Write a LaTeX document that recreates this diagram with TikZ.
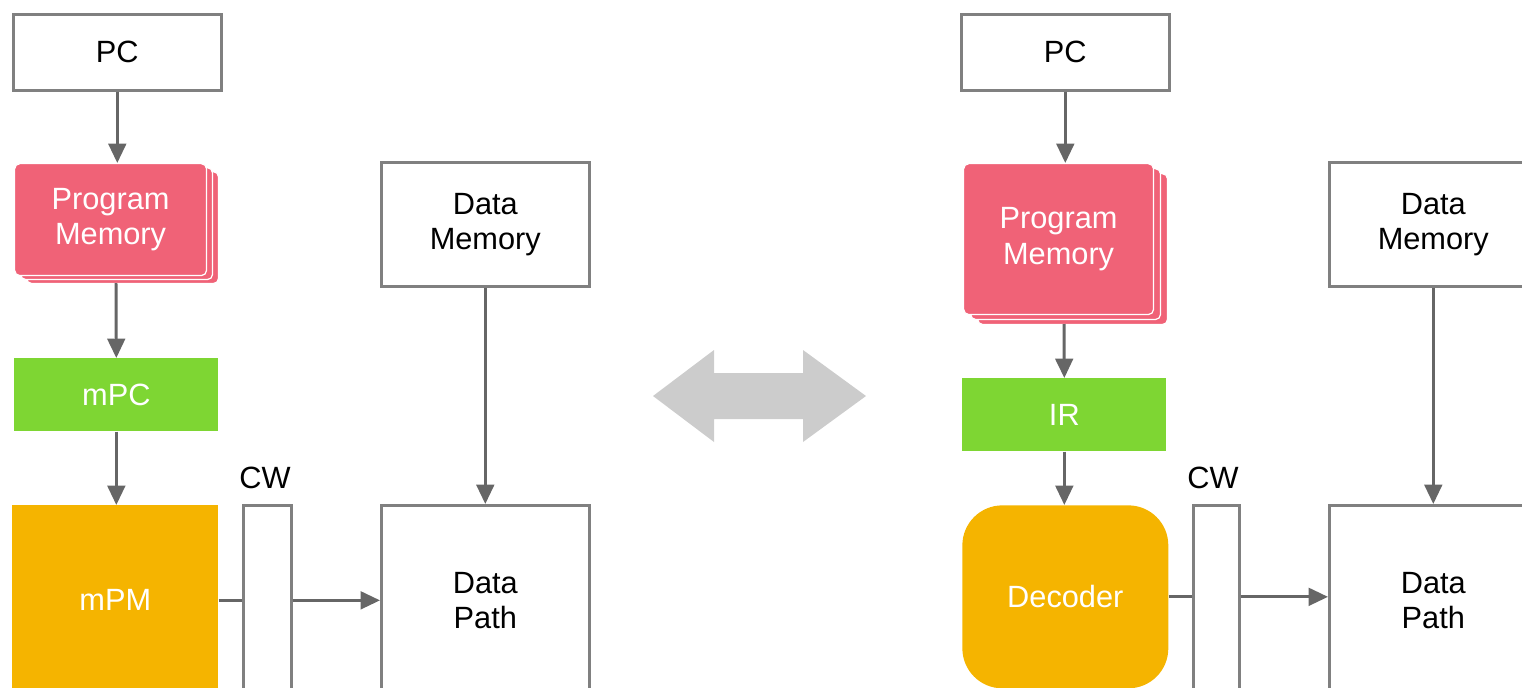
\documentclass[tikz,border=0pt]{standalone}
\usepackage{fontspec}
\setmainfont{Liberation Sans}
\usepackage{xcolor}
\usetikzlibrary{arrows.meta, positioning, shadows, calc}

\definecolor{pmred}{HTML}{F06277}
\definecolor{pcgreen}{HTML}{7ED633}
\definecolor{decorange}{HTML}{F5B400}
\definecolor{boxgray}{HTML}{808080}
\definecolor{arrgray}{HTML}{666666}
\definecolor{biggray}{HTML}{CCCCCC}

\begin{document}
\begin{tikzpicture}[x=0.02cm, y=-0.02cm, font=\fontsize{17.5}{20}\selectfont,
  blk/.style={draw=boxgray, line width=1.5pt, fill=white, inner sep=0pt, anchor=north west, align=center},
  pmem/.style={fill=pmred, draw=white, line width=0.7pt, rounded corners=3pt, text=white, inner sep=0pt, anchor=north west, align=center},
  flat/.style={inner sep=0pt, anchor=north west, text=white, align=center},
  arr/.style={draw=arrgray, line width=1.7pt, -{Triangle[length=11pt, width=10pt]}},
  wire/.style={draw=arrgray, line width=1.7pt}]
  \useasboundingbox (0,0) rectangle (1522,687);
  \clip (0,0) rectangle (1522,687);

  % ---- microprogrammed (left) ----
  \node[blk, minimum width=4.16cm, minimum height=1.52cm] (pcL) at (12,13) {PC};
  \node[pmem, minimum width=3.84cm, minimum height=2.24cm,
        double copy shadow={shadow xshift=0.12cm, shadow yshift=-0.08cm, fill=pmred, draw=white, line width=0.7pt}]
        (pmL) at (14,163) {Program\\Memory};
  \coordinate (pmLb) at (116,283);
  \node[flat, fill=pcgreen, minimum width=4.08cm, minimum height=1.46cm] (mpc) at (14,358) {mPC};
  \node[flat, fill=decorange, minimum width=4.12cm, minimum height=3.8cm] (mpm) at (12,505) {mPM};
  \node[blk, minimum width=0.96cm, minimum height=3.8cm] (cwL) at (242,504) {};
  \node (cwLlab) at (265,478) {CW};
  \node[blk, minimum width=4.16cm, minimum height=2.48cm] (dmL) at (380,161) {Data\\Memory};
  \node[blk, minimum width=4.16cm, minimum height=3.8cm] (dpL) at (380,504) {Data\\Path};

  \draw[arr] (pcL.south) -- (pcL.south |- pmL.north);
  \draw[arr] (pmLb) -- (mpc.north);
  \draw[arr] (mpc.south) -- (mpc.south |- mpm.north);
  \draw[wire] (mpm.east) -- (mpm.east -| cwL.west);
  \draw[arr] (mpm.east -| cwL.east) -- (mpm.east -| dpL.west);
  \draw[arr] (dmL.south) -- (dpL.north);

  % ---- equivalence arrow ----
  \fill[biggray] (653,396) -- (714,350) -- (714,373) -- (803,373) -- (803,350) -- (866,396)
    -- (803,442) -- (803,419) -- (714,419) -- (714,442) -- cycle;

  % ---- hardwired (right) ----
  \node[blk, minimum width=4.16cm, minimum height=1.52cm] (pcR) at (960,13) {PC};
  \node[pmem, minimum width=3.8cm, minimum height=3.02cm,
        double copy shadow={shadow xshift=0.14cm, shadow yshift=-0.1cm, fill=pmred, draw=white, line width=0.7pt}]
        (pmR) at (963,163) {Program\\Memory};
  \coordinate (pmRb) at (1064,324);
  \node[flat, fill=pcgreen, minimum width=4.08cm, minimum height=1.46cm] (ir) at (962,378) {IR};
  \node[flat, fill=decorange, rounded corners=0.8cm, minimum width=4.12cm, minimum height=3.66cm] (dec) at (962,505) {Decoder};
  \node[blk, minimum width=0.92cm, minimum height=3.8cm] (cwR) at (1192,504) {};
  \node (cwRlab) at (1213,478) {CW};
  \node[blk, minimum width=4.16cm, minimum height=2.48cm] (dmR) at (1328,161) {Data\\Memory};
  \node[blk, minimum width=4.16cm, minimum height=3.8cm] (dpR) at (1328,504) {Data\\Path};

  \draw[arr] (pcR.south) -- (pcR.south |- pmR.north);
  \draw[arr] (pmRb) -- (ir.north);
  \draw[arr] (ir.south) -- (ir.south |- dec.north);
  \draw[wire] (dec.east) -- (dec.east -| cwR.west);
  \draw[arr] (dec.east -| cwR.east) -- (dec.east -| dpR.west);
  \draw[arr] (dmR.south) -- (dpR.north);
\end{tikzpicture}
\end{document}
